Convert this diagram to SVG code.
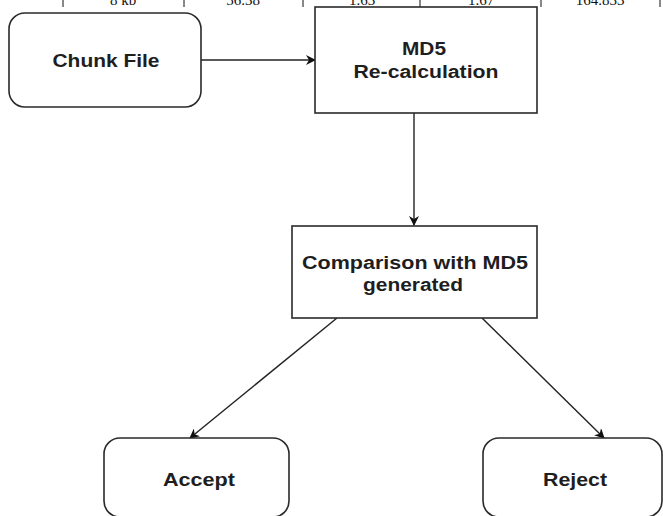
<svg xmlns="http://www.w3.org/2000/svg" width="663" height="516" viewBox="0 0 663 516">
  <style>
    .box { fill: #ffffff; stroke: #2a2a2a; stroke-width: 1.6; }
    .lbl { font-family: "Liberation Sans", Arial, sans-serif; font-weight: bold; font-size: 18px; fill: #1e1e1e; text-anchor: middle; }
    .tbl { font-family: "Liberation Serif", "Times New Roman", serif; font-size: 15px; fill: #111; text-anchor: middle; }
    .rule { stroke: #111; stroke-width: 1; }
    .edge { stroke: #222; stroke-width: 1.4; fill: none; marker-end: url(#arrow); }
  </style>
  <defs>
    <marker id="arrow" viewBox="0 0 10 10" refX="9" refY="5" markerWidth="11" markerHeight="10" markerUnits="userSpaceOnUse" orient="auto">
      <path d="M0,0 L10,5 L0,10 L3,5 Z" fill="#111"/>
    </marker>
  </defs>
  <rect width="663" height="516" fill="#ffffff"/>

  <!-- table row cut off at the top edge -->
  <g id="table-row">
    <line class="rule" x1="63" y1="0" x2="63" y2="7"/>
    <line class="rule" x1="184" y1="0" x2="184" y2="7"/>
    <line class="rule" x1="303" y1="0" x2="303" y2="7"/>
    <line class="rule" x1="420" y1="0" x2="420" y2="7"/>
    <line class="rule" x1="541" y1="0" x2="541" y2="7"/>
    <line class="rule" x1="660" y1="0" x2="660" y2="7"/>
    <text class="tbl" x="123" y="5">8 kb</text>
    <text class="tbl" x="243" y="5">56.38</text>
    <text class="tbl" x="362" y="5">1.63</text>
    <text class="tbl" x="481" y="5">1.67</text>
    <text class="tbl" x="600" y="5">164.833</text>
  </g>

  <g id="connectors">
    <line class="edge" x1="201" y1="60" x2="315" y2="60"/>
    <line class="edge" x1="414" y1="113" x2="414" y2="225"/>
    <line class="edge" x1="337" y1="318" x2="190" y2="438"/>
    <line class="edge" x1="482" y1="318" x2="604" y2="438"/>
  </g>

  <g id="chunk-file">
    <rect class="box" x="9" y="13" width="192" height="94" rx="16" ry="16"/>
    <text class="lbl" x="106" y="67" textLength="107" lengthAdjust="spacingAndGlyphs">Chunk File</text>
  </g>

  <g id="md5-recalc">
    <rect class="box" x="315" y="7" width="222" height="106"/>
    <text class="lbl" x="424" y="55" textLength="44" lengthAdjust="spacingAndGlyphs">MD5</text>
    <text class="lbl" x="426" y="78" textLength="145" lengthAdjust="spacingAndGlyphs">Re-calculation</text>
  </g>

  <g id="comparison">
    <rect class="box" x="292" y="226" width="245" height="92"/>
    <text class="lbl" x="415" y="269" textLength="226" lengthAdjust="spacingAndGlyphs">Comparison with MD5</text>
    <text class="lbl" x="413" y="291" textLength="100" lengthAdjust="spacingAndGlyphs">generated</text>
  </g>

  <g id="accept">
    <rect class="box" x="104" y="438" width="185" height="79" rx="16" ry="16"/>
    <text class="lbl" x="199" y="486" textLength="72" lengthAdjust="spacingAndGlyphs">Accept</text>
  </g>

  <g id="reject">
    <rect class="box" x="483" y="438" width="179" height="79" rx="16" ry="16"/>
    <text class="lbl" x="575" y="486" textLength="64" lengthAdjust="spacingAndGlyphs">Reject</text>
  </g>
</svg>
